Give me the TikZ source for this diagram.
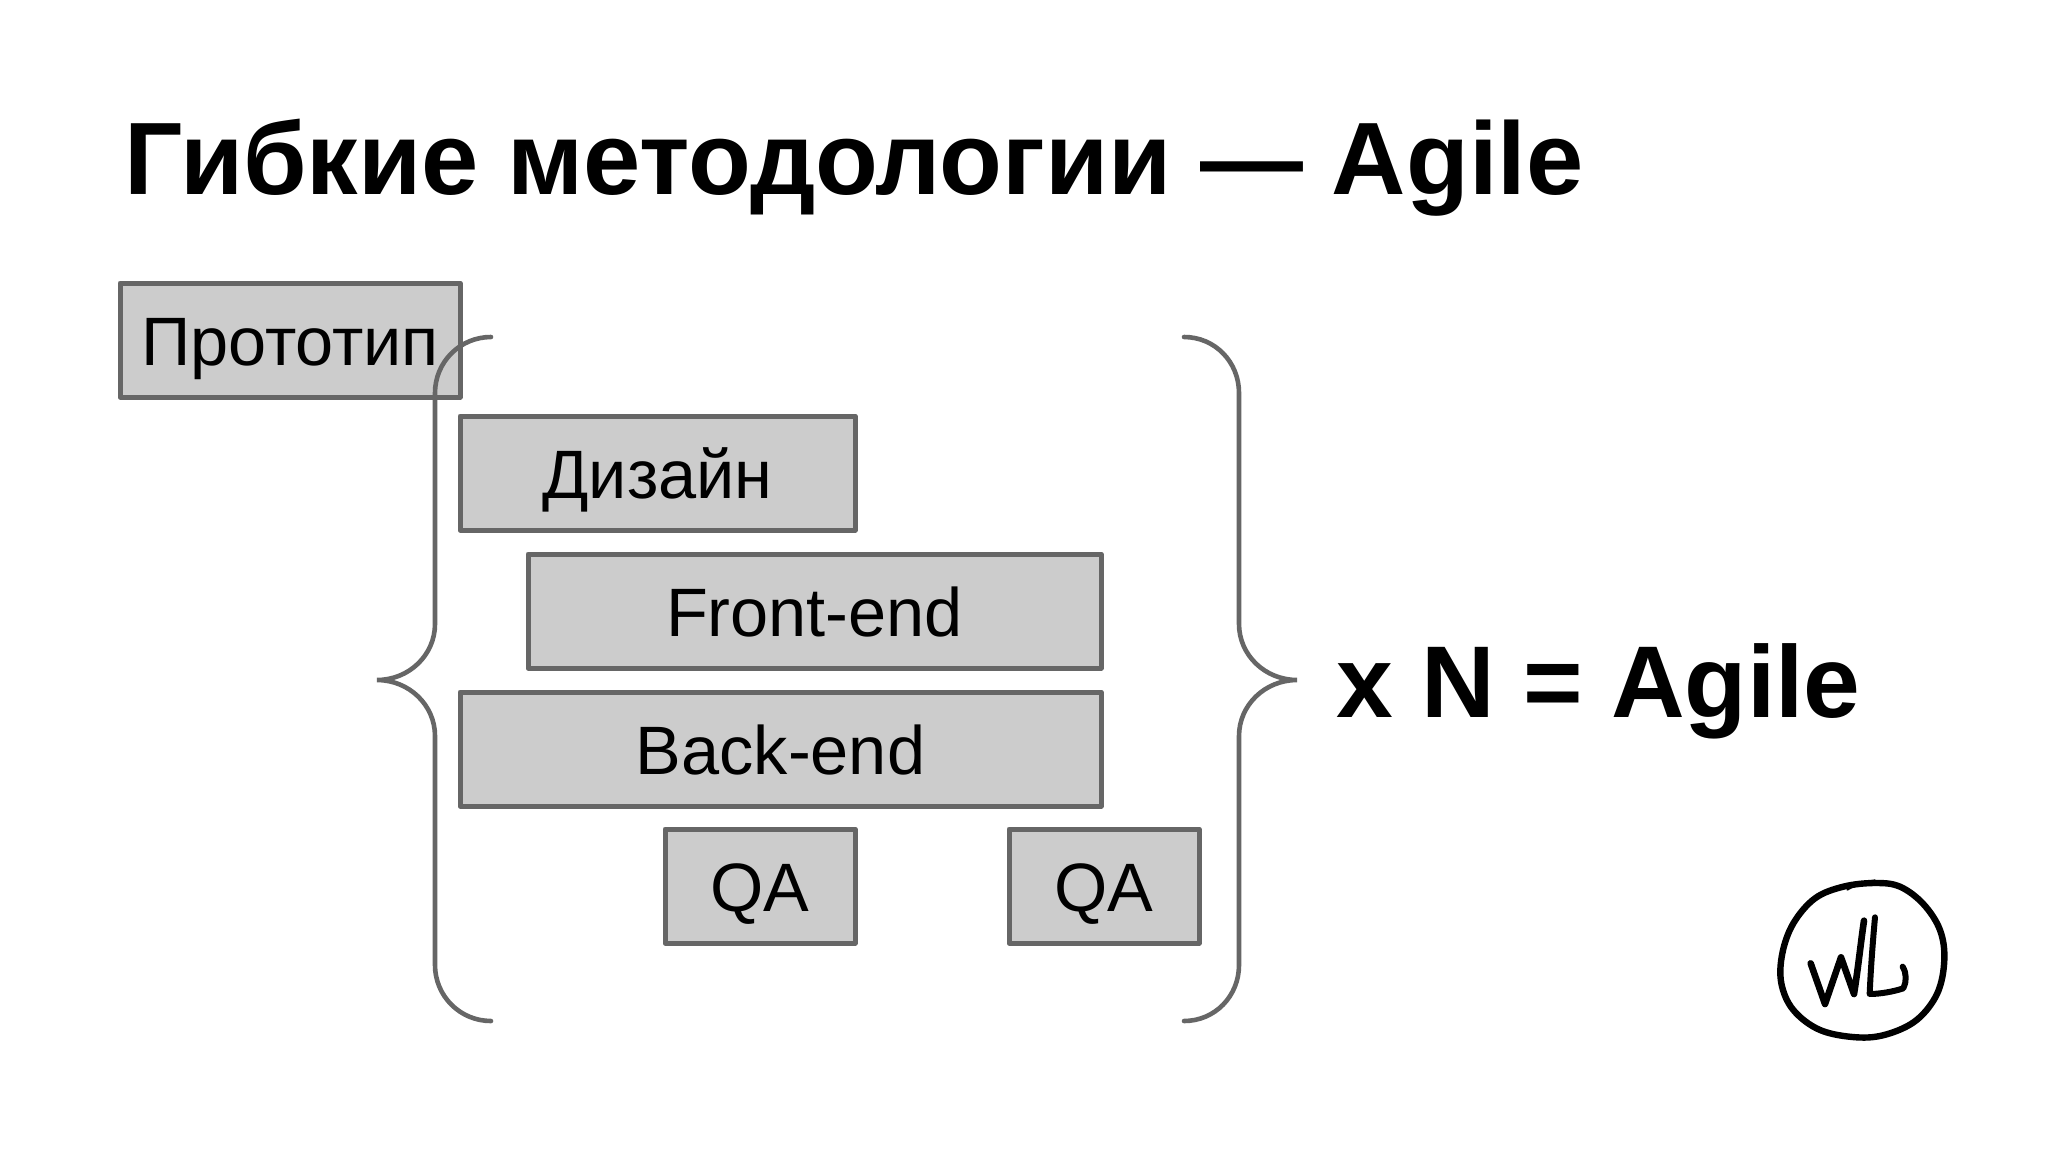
\documentclass[tikz,border=0pt]{standalone}
\usepackage{fontspec}
\setmainfont{Liberation Sans}
\definecolor{edge}{HTML}{666666}
\definecolor{boxfill}{HTML}{CCCCCC}
\tikzset{
  taskbox/.style={draw=edge,fill=boxfill,line width=5pt,line join=round,inner sep=0pt,outer sep=0pt,anchor=north west,text height=51pt,text depth=0pt,font=\fontsize{68.5}{80}\selectfont},
  brace/.style={draw=edge,line width=4.6pt,line cap=round},
  titletext/.style={anchor=base west,inner sep=0pt,font=\fontsize{102.9}{118}\selectfont\bfseries},
  resulttext/.style={anchor=base west,inner sep=0pt,font=\fontsize{102}{118}\selectfont\bfseries},
  logo/.style={black,line cap=round,line join=round}
}
\begin{document}
\begin{tikzpicture}[x=1pt,y=-1pt]
\useasboundingbox[fill=white] (0,0) rectangle (2048,1152);
\node[titletext] (title) at (124,194) {Гибкие методологии — Agile};
\node[resulttext] (result) at (1336,717) {x N = Agile};
\node[taskbox,minimum width=340pt,minimum height=114pt] (proto) at (120,283) {Прототип};
\node[taskbox,minimum width=395pt,minimum height=114pt] (design) at (460,416) {Дизайн};
\node[taskbox,minimum width=573pt,minimum height=114pt] (front) at (528,554) {Front-end};
\node[taskbox,minimum width=641pt,minimum height=114pt] (back) at (460,692) {Back-end};
\node[taskbox,minimum width=190pt,minimum height=114pt] (qa1) at (665,829) {QA};
\node[taskbox,minimum width=190pt,minimum height=114pt] (qa2) at (1009,829) {QA};
% braces
\draw[brace] (491,337) .. controls (460,337) and (435,362) .. (435,393) -- (435,624)
  .. controls (435,655) and (409,680) .. (377,680)
  .. controls (409,680) and (435,705) .. (435,736) -- (435,965)
  .. controls (435,996) and (460,1021) .. (491,1021);
\draw[brace] (1184,337) .. controls (1215,337) and (1239,362) .. (1239,393) -- (1239,624)
  .. controls (1239,655) and (1265,680) .. (1297,680)
  .. controls (1265,680) and (1239,705) .. (1239,736) -- (1239,965)
  .. controls (1239,996) and (1215,1021) .. (1184,1021);
% logo
\begin{scope}[shift={(1740,860)},x=0.3333pt,y=-0.3333pt]
\draw[logo,line width=6.4pt] plot[smooth cycle,tension=0.6] coordinates {(405,69) (480,80) (550,132) (600,210) (613,300) (592,400) (530,480) (440,523) (350,532) (240,510) (160,450) (124,370) (127,280) (160,190) (225,115) (310,80)};
\draw[logo,line width=2pt] (322,89) .. controls (350,72) and (375,66) .. (405,61);
\draw[logo,line width=6.6pt] (212,310) -- (255,432) -- (303,292) -- (342,402) .. controls (355,320) and (362,250) .. (372,182);
\draw[logo,line width=6pt] (405,172) .. controls (398,250) and (392,330) .. (389,402) .. controls (420,402) and (460,395) .. (490,385) .. controls (500,365) and (500,340) .. (488,320);
\end{scope}
\end{tikzpicture}
\end{document}
